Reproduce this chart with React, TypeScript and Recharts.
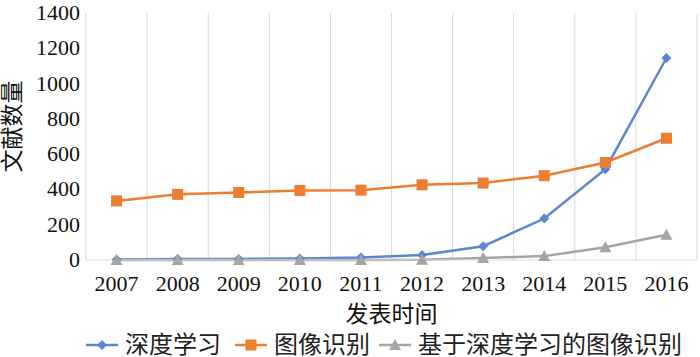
import { LineChart, Line, XAxis, YAxis, ReferenceLine, Legend } from 'recharts'

const years = [2007, 2008, 2009, 2010, 2011, 2012, 2013, 2014, 2015, 2016]
const deepLearning = [3, 5, 6, 8, 14, 28, 78, 235, 515, 1145]
const imageRecog = [335, 372, 383, 394, 396, 426, 436, 478, 553, 690]
const dlImageRecog = [0, 0, 0, 0, 0, 2, 12, 22, 72, 143]
const yTicks = [0, 200, 400, 600, 800, 1000, 1200, 1400]

const seriesNames = ['深度学习', '图像识别', '基于深度学习的图像识别']
const colors = ['#5B87CC', '#ED7D31', '#A5A5A5']

const data = years.map((y, i) => ({
  year: y,
  dl: deepLearning[i],
  ir: imageRecog[i],
  dlir: dlImageRecog[i],
}))

// category boundaries, Excel style gridlines
const bounds = [...years.map(y => y - 0.5), years[years.length - 1] + 0.5]

const SERIF = 'Liberation Serif'
const FONT = "'Liberation Serif', 'Noto Sans CJK SC', serif"

const Diamond = ({ cx, cy, fill }: any) => (
  <path d={`M${cx},${cy - 5} L${cx + 5},${cy} L${cx},${cy + 5} L${cx - 5},${cy} Z`} fill={fill} />
)
const Square = ({ cx, cy, fill }: any) => (
  <rect x={cx - 5.5} y={cy - 5.5} width={11} height={11} fill={fill} />
)
const Triangle = ({ cx, cy, fill }: any) => (
  <path d={`M${cx},${cy - 6} L${cx + 6},${cy + 5} L${cx - 6},${cy + 5} Z`} fill={fill} />
)
const shapes = [Diamond, Square, Triangle]

const XTick = ({ x, y, payload }: any) => (
  <text x={x} y={y + 25} textAnchor="middle" fill="#111" style={{ fontFamily: SERIF, fontSize: 22 }}>
    {payload.value}
  </text>
)
const YTick = ({ x, y, payload }: any) => (
  <text x={x} y={y} dy={7} textAnchor="end" fill="#111" style={{ fontFamily: SERIF, fontSize: 22 }}>
    {payload.value}
  </text>
)

const LegendContent = () => (
  <div style={{ display: 'flex', justifyContent: 'center', alignItems: 'center', height: 37, paddingTop: 12, boxSizing: 'border-box', fontFamily: FONT, fontSize: 24, color: '#222', paddingLeft: 78 }}>
    {seriesNames.map((n, i) => {
      const S = shapes[i]
      return (
        <div key={n} style={{ display: 'flex', alignItems: 'center', marginRight: i === 0 ? 13 : 8 }}>
          <svg width={34} height={14}>
            <line x1={1} y1={7} x2={33} y2={7} stroke={colors[i]} strokeWidth={2.5} />
            <S cx={17} cy={7} fill={colors[i]} />
          </svg>
          <span style={{ marginLeft: 6, lineHeight: 1 }}>{n}</span>
        </div>
      )
    })}
  </div>
)

export default function App() {
  return (
    <div style={{ position: 'absolute', left: 0, top: 0, background: '#fff', fontFamily: FONT }}>
      <LineChart width={700} height={357} data={data} margin={{ top: 13, right: 3, left: 0, bottom: 0 }}>
        <XAxis
          dataKey="year"
          type="number"
          domain={[bounds[0], bounds[bounds.length - 1]]}
          ticks={years}
          interval={0}
          height={60}
          tickLine={false}
          tickMargin={0}
          axisLine={{ stroke: '#D9D9D9' }}
          tick={<XTick />}
          label={{ value: '发表时间', position: 'insideBottom', offset: -2, fill: '#111', fontSize: 23, fontFamily: FONT }}
        />
        <YAxis
          domain={[0, 1400]}
          ticks={yTicks}
          width={86}
          tickLine={false}
          axisLine={false}
          tickMargin={0}
          tick={<YTick />}
          label={({ viewBox }: any) => {
            const x = viewBox.x + 12
            const y = viewBox.y + viewBox.height / 2 - 10
            return (
              <text x={x} y={y} transform={`rotate(-90, ${x}, ${y})`} textAnchor="middle" dominantBaseline="central" fill="#111" fontSize={23} fontFamily={FONT}>
                文献数量
              </text>
            )
          }}
        />
        {bounds.map(b => (
          <ReferenceLine key={b} x={b} stroke="#D9D9D9" strokeWidth={1} />
        ))}
        <Legend verticalAlign="bottom" height={37} content={<LegendContent />} />
        <Line dataKey="dl" name={seriesNames[0]} stroke={colors[0]} strokeWidth={2.5} dot={<Diamond fill={colors[0]} />} isAnimationActive={false} />
        <Line dataKey="ir" name={seriesNames[1]} stroke={colors[1]} strokeWidth={2.5} dot={<Square fill={colors[1]} />} isAnimationActive={false} />
        <Line dataKey="dlir" name={seriesNames[2]} stroke={colors[2]} strokeWidth={2.5} dot={<Triangle fill={colors[2]} />} isAnimationActive={false} />
      </LineChart>
    </div>
  )
}
